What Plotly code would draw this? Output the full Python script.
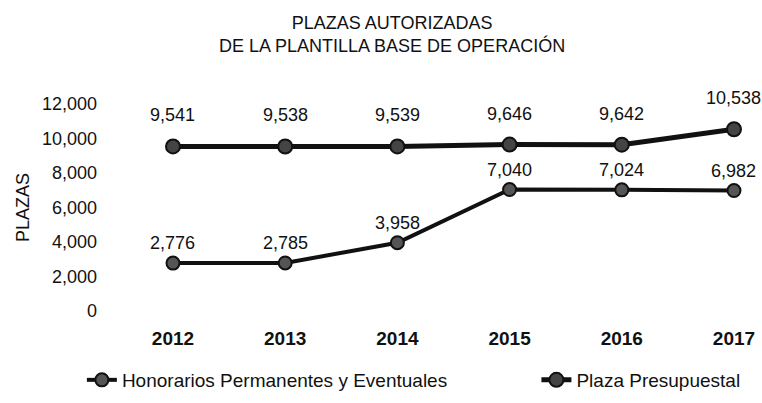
import plotly.graph_objects as go

years = ["2012", "2013", "2014", "2015", "2016", "2017"]
honorarios = [2776, 2785, 3958, 7040, 7024, 6982]
plaza = [9541, 9538, 9539, 9646, 9642, 10538]
y_ticks = [0, 2000, 4000, 6000, 8000, 10000, 12000]

FONT = "Liberation Sans, Arial, sans-serif"
INK = "#111111"

fig = go.Figure()
fig.add_trace(go.Scatter(
    x=years, y=honorarios, mode="lines+markers",
    name="Honorarios Permanentes y Eventuales", legend="legend",
    line=dict(color=INK, width=4),
    marker=dict(size=13, color="#555555", line=dict(color=INK, width=2)),
))
fig.add_trace(go.Scatter(
    x=years, y=plaza, mode="lines+markers",
    name="Plaza Presupuestal", legend="legend2",
    line=dict(color=INK, width=5),
    marker=dict(size=14, color="#444444", line=dict(color=INK, width=2)),
))

for i, v in enumerate(honorarios):
    fig.add_annotation(x=i, y=v, text=f"{v:,}", showarrow=False,
                       yshift=20, font=dict(size=18, color=INK, family=FONT))
for i, v in enumerate(plaza):
    fig.add_annotation(x=i, y=v, text=f"{v:,}", showarrow=False,
                       yshift=31, font=dict(size=18, color=INK, family=FONT))

fig.add_annotation(xref="paper", yref="paper", x=0.447, y=1.236,
                   xanchor="center", yanchor="middle", showarrow=False,
                   text="PLAZAS AUTORIZADAS<br>DE LA PLANTILLA BASE DE OPERACIÓN",
                   font=dict(size=18, family=FONT, color=INK))

fig.update_layout(
    width=762, height=403,
    paper_bgcolor="white", plot_bgcolor="white",
    margin=dict(l=105, r=15, t=90, b=78, autoexpand=False),
    font=dict(family=FONT, color=INK, size=17),
    xaxis=dict(type="category", range=[-0.606, 5.116], showgrid=False,
               showline=False, zeroline=False, ticks="", automargin=False,
               tickfont=dict(size=19, family=FONT, color=INK, weight="bold")),
    yaxis=dict(range=[-812, 12812], tickvals=y_ticks, tickformat=",",
               showgrid=False, showline=False, zeroline=False, ticks="",
               automargin=False, ticklabelstandoff=7,
               tickfont=dict(size=18, family=FONT, color=INK),
               title=dict(text="PLAZAS", font=dict(size=18, family=FONT, color=INK),
                          standoff=7)),
    legend=dict(orientation="h", x=-0.036, xanchor="left", y=-0.234, yanchor="middle",
                font=dict(size=19, family=FONT, color=INK), bgcolor="rgba(0,0,0,0)"),
    legend2=dict(orientation="h", x=0.672, xanchor="left", y=-0.234, yanchor="middle",
                 font=dict(size=19, family=FONT, color=INK), bgcolor="rgba(0,0,0,0)"),
    showlegend=True,
)

fig.write_html("out.html", config={"displayModeBar": False},
               post_script="document.body.style.margin='0';")
